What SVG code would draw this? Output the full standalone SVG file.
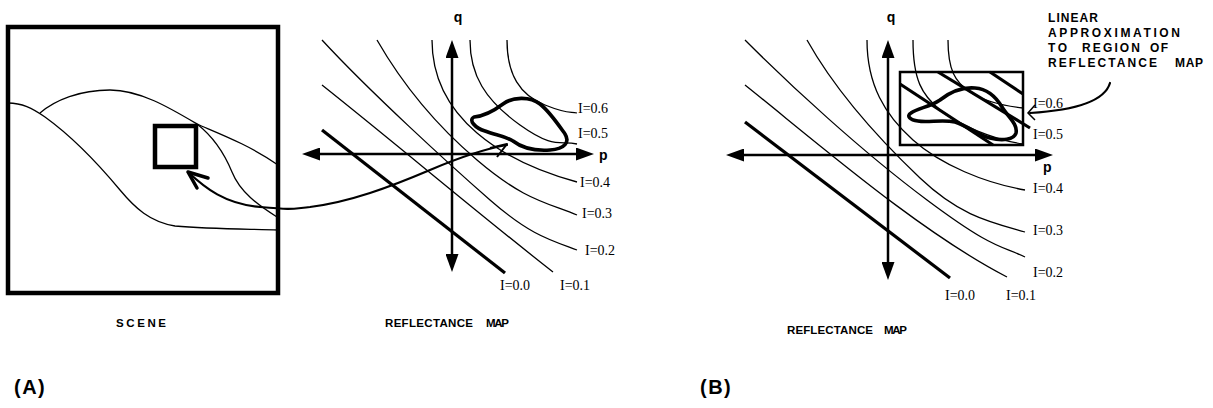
<svg xmlns="http://www.w3.org/2000/svg" width="1213" height="408" viewBox="0 0 1213 408">
<style>
.thin{fill:none;stroke:#000;stroke-width:1.3}
.thick{fill:none;stroke:#000;stroke-width:3.2}
.axis{fill:none;stroke:#000;stroke-width:2.5}
.blob{fill:none;stroke:#000;stroke-width:3.6;stroke-linejoin:round}
.frame{fill:none;stroke:#000;stroke-width:4.5}
.conn{fill:none;stroke:#000;stroke-width:2.2;stroke-linecap:round}
.head{fill:none;stroke:#000;stroke-width:3.5;stroke-linecap:round;stroke-linejoin:round}
.lbl{font-family:"Liberation Serif","Times New Roman",serif;font-size:14px}
.ax{font-family:"Liberation Sans",Arial,sans-serif;font-weight:bold;font-size:14px}
.cap{font-family:"Liberation Sans",Arial,sans-serif;font-weight:bold;font-size:11.5px}
.note{font-family:"Liberation Sans",Arial,sans-serif;font-weight:bold;font-size:12px}
.big{font-family:"Liberation Sans",Arial,sans-serif;font-weight:bold;font-size:20px;letter-spacing:1.5px}
</style>
<defs>
<marker id="tri" viewBox="0 -6.5 18 13" refX="0" refY="0" markerWidth="18" markerHeight="13" markerUnits="userSpaceOnUse" orient="auto-start-reverse">
<path d="M0,-6.5 L18,0 L0,6.5 Z" fill="#000"/>
</marker>
</defs>
<rect width="1213" height="408" fill="#fff"/>

<g id="scene">
<rect class="frame" x="8" y="27" width="270" height="266"/>
<path class="thin" d="M8,103 C22,103 32,108 45,117 C70,135 95,160 120,190 C135,208 150,222 175,226 C210,229 250,229 278,230"/>
<path class="thin" d="M40,113 C55,100 80,90 110,90 C140,90 170,108 197,124 C215,132 250,145 278,165"/>
<path class="thin" d="M197,124 C215,138 225,155 232,172 C240,192 258,205 277,217"/>
<rect x="155" y="126" width="41" height="41" fill="none" stroke="#000" stroke-width="4.5"/>
</g>

<g id="mapA">
<g id="contoursA">
<path class="thick" d="M322,130 L505,273"/>
<path class="thin" d="M322,85 C400,147 480,215 553,272"/>
<path class="thin" d="M322,40 C370,92 450,165 490,200 S550,240 577,250"/>
<path class="thin" d="M377,40 C400,80 430,120 477,160 S545,202 577,215"/>
<path class="thin" d="M432,40 C432,80 450,110 477,133 S540,172 577,182"/>
<path class="thin" d="M470,40 C470,75 485,100 520,125 S560,140 577,144"/>
<path class="thin" d="M507,40 C507,75 520,95 545,105 S570,111 577,113"/>
</g>
<g id="axesA">
<line class="axis" x1="452" y1="58" x2="452" y2="254" marker-start="url(#tri)" marker-end="url(#tri)"/>
<line class="axis" x1="320" y1="154" x2="576" y2="154" marker-start="url(#tri)" marker-end="url(#tri)"/>
<text class="ax" x="458" y="22" text-anchor="middle">q</text>
<text class="ax" x="599" y="160">p</text>
</g>
<g id="blobA">
<path class="blob" d="M474,117 C485,116 495,110 503,104 C512,97 530,96 540,104 C550,112 560,127 565,134 C570,142 565,149 550,150 C535,151 522,148 513,141 C505,136 495,135 485,131 C475,128 468,120 474,117 Z"/>
</g>
<g id="labelsA" class="lbl">
<text x="578" y="113">I=0.6</text>
<text x="578" y="138">I=0.5</text>
<text x="580" y="187">I=0.4</text>
<text x="582" y="218">I=0.3</text>
<text x="585" y="255">I=0.2</text>
<text x="500" y="290">I=0.0</text>
<text x="560" y="290">I=0.1</text>
</g>
</g>

<g id="connectors">
<path class="conn" d="M188,172 C205,188 225,204 260,207 S290,209 310,207 C350,202 390,187 430,170 C465,155 490,148 507,145"/>
<polyline class="head" points="208,178 188,172 197,188"/>
<polyline fill="none" stroke="#000" stroke-width="2" stroke-linejoin="round" points="490,148 507,144 497,157"/>
<path class="conn" d="M1110,83 C1105,100 1080,110 1030,113"/>
<polyline fill="none" stroke="#000" stroke-width="1.5" points="1035,105 1028,113 1035,120"/>
</g>

<g id="mapB">
<g id="contoursB">
<path class="thick" d="M745,122 L950,278"/>
<path class="thin" d="M745,85 C820,145 920,232 1007,277"/>
<path class="thin" d="M745,40 C790,85 860,150 927,200 S1000,245 1025,257"/>
<path class="thin" d="M807,40 C835,90 880,140 920,178 S990,222 1025,232"/>
<path class="thin" d="M867,40 C867,85 885,115 913,140 S985,183 1025,190"/>
<path class="thin" d="M913,40 C913,80 922,95 940,110 S995,140 1023,144"/>
<path class="thin" d="M948,40 C948,70 955,82 970,92 S1005,106 1023,108"/>
</g>
<g id="axesB">
<line class="axis" x1="888" y1="58" x2="888" y2="262" marker-start="url(#tri)" marker-end="url(#tri)"/>
<line class="axis" x1="744" y1="155" x2="1035" y2="155" marker-start="url(#tri)" marker-end="url(#tri)"/>
<text class="ax" x="891" y="22" text-anchor="middle">q</text>
<text class="ax" x="1043" y="172">p</text>
</g>
<g id="approx">
<rect x="900" y="72" width="123" height="73" fill="none" stroke="#000" stroke-width="2.5"/>
<path class="thick" d="M900,84 L993,145"/>
<path class="thick" d="M938,72 L1030,128"/>
<path class="thick" d="M990,72 L1023,94"/>
</g>
<g id="blobB">
<path class="blob" d="M911,113 C918,108 930,107 940,100 C950,92 962,87 975,88 C988,89 996,97 1002,107 C1008,117 1018,124 1016,133 C1014,140 1002,141 990,138 C978,135 968,126 955,122 C942,119 928,123 918,121 C910,120 906,116 911,113 Z"/>
</g>
<g id="labelsB" class="lbl">
<text x="1033" y="108">I=0.6</text>
<text x="1033" y="139">I=0.5</text>
<text x="1033" y="193">I=0.4</text>
<text x="1033" y="235">I=0.3</text>
<text x="1033" y="277">I=0.2</text>
<text x="945" y="300">I=0.0</text>
<text x="1006" y="300">I=0.1</text>
</g>
<g id="note" class="note">
<text x="1048" y="22" textLength="50" lengthAdjust="spacing">LINEAR</text>
<text x="1048" y="37" textLength="132" lengthAdjust="spacing">APPROXIMATION</text>
<text x="1048" y="52" textLength="19" lengthAdjust="spacing">TO</text>
<text x="1082" y="52" textLength="58" lengthAdjust="spacing">REGION</text>
<text x="1150" y="52" textLength="18" lengthAdjust="spacing">OF</text>
<text x="1048" y="67" textLength="109" lengthAdjust="spacing">REFLECTANCE</text>
<text x="1175" y="67" textLength="28" lengthAdjust="spacing">MAP</text>
</g>
</g>

<g id="captions" class="cap">
<text x="116" y="327" textLength="50" lengthAdjust="spacing">SCENE</text>
<text x="385" y="327" textLength="88" lengthAdjust="spacing">REFLECTANCE</text>
<text x="486" y="327" textLength="23" lengthAdjust="spacing">MAP</text>
<text x="787" y="334" textLength="86" lengthAdjust="spacing">REFLECTANCE</text>
<text x="884" y="334" textLength="23" lengthAdjust="spacing">MAP</text>
</g>
<g id="panels" class="big">
<text x="14" y="394">(A)</text>
<text x="700" y="394">(B)</text>
</g>
</svg>
